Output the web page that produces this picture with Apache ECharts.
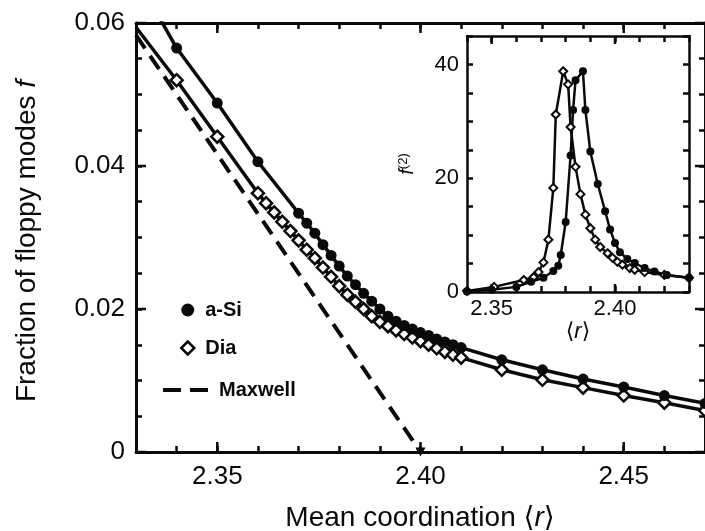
<!DOCTYPE html>
<html>
<head>
<meta charset="utf-8">
<script src="https://cdn.jsdelivr.net/npm/echarts@6/dist/echarts.min.js"></script>
<style>
  html, body { margin: 0; padding: 0; background: #fff; }
  #chart { width: 705px; height: 531px; }
</style>
</head>
<body>
<div id="chart"></div>
<script>
// ---- main panel: fraction of floppy modes f vs <r> ----
const aSi = [
  [2.33, 0.0665], [2.34, 0.0565], [2.35, 0.0488], [2.36, 0.0406], [2.37, 0.0334],
  [2.372, 0.0320], [2.374, 0.0306], [2.376, 0.0290], [2.378, 0.0275], [2.380, 0.0260],
  [2.382, 0.0246], [2.384, 0.0234], [2.386, 0.0222], [2.388, 0.0211], [2.390, 0.0200],
  [2.392, 0.0190], [2.394, 0.0183], [2.396, 0.0177], [2.398, 0.0172], [2.400, 0.0167],
  [2.402, 0.0163], [2.404, 0.0158], [2.406, 0.0154], [2.408, 0.0150], [2.410, 0.0146],
  [2.42, 0.0129], [2.43, 0.0115], [2.44, 0.0102], [2.45, 0.0091], [2.46, 0.0079], [2.47, 0.0068]
];
const dia = [
  [2.33, 0.0594], [2.34, 0.0520], [2.35, 0.0441], [2.360, 0.0362], [2.362, 0.0348],
  [2.364, 0.0335], [2.366, 0.0322], [2.368, 0.0309], [2.370, 0.0296], [2.372, 0.0283],
  [2.374, 0.0271], [2.376, 0.0258], [2.378, 0.0245], [2.380, 0.0232], [2.382, 0.0220],
  [2.384, 0.0210], [2.386, 0.0200], [2.388, 0.0190], [2.390, 0.0182], [2.392, 0.0176],
  [2.394, 0.0170], [2.396, 0.0165], [2.398, 0.0160], [2.400, 0.0155], [2.402, 0.0150],
  [2.404, 0.0145], [2.406, 0.0140], [2.408, 0.0136], [2.410, 0.0132],
  [2.42, 0.0115], [2.43, 0.0101], [2.44, 0.0090], [2.45, 0.0079], [2.46, 0.0069], [2.47, 0.0058]
];
const maxwell = [[2.33, 0.0583], [2.40, 0]];

// ---- inset: f(2) ----
const aSiInset = [
  [2.340, 0.1], [2.350, 0.4], [2.360, 0.9], [2.366, 1.8], [2.371, 2.5], [2.375, 3.7],
  [2.377, 4.6], [2.378, 6.5], [2.380, 12.3], [2.382, 24.0], [2.383, 32.0], [2.384, 37.2],
  [2.387, 38.8], [2.388, 32.0], [2.390, 24.7], [2.393, 19.0], [2.396, 14.2], [2.398, 11.0],
  [2.400, 8.6], [2.402, 7.0], [2.405, 5.8], [2.408, 5.1], [2.412, 4.2], [2.416, 3.6],
  [2.421, 3.0], [2.430, 2.5]
];
const diaInset = [
  [2.340, 0.2], [2.351, 0.9], [2.363, 2.1], [2.367, 2.6], [2.369, 3.5], [2.371, 5.2],
  [2.373, 9.2], [2.375, 18.3], [2.376, 31.2], [2.379, 38.8], [2.381, 36.5], [2.382, 29.0],
  [2.384, 22.0], [2.386, 17.2], [2.388, 13.6], [2.390, 11.2], [2.392, 9.2], [2.394, 7.9],
  [2.397, 6.8], [2.399, 6.0], [2.401, 5.3], [2.403, 4.8], [2.406, 4.2], [2.408, 3.9],
  [2.412, 3.5], [2.420, 3.0], [2.430, 2.5]
];

// tick labels and tick steps
const xLabels = [2.35, 2.40, 2.45];
const yLabels = [0, 0.02, 0.04, 0.06];
const insetXLabels = [2.35, 2.40];
const insetYLabels = [0, 20, 40];
const xStep = 0.01, yStep = 0.005, insetXStep = 0.01, insetYStep = 5;

const MAIN_X = [2.33, 2.47], MAIN_Y = [0, 0.06];
const INSET_X = [2.34, 2.43], INSET_Y = [0, 45];

const FONT = "'Liberation Sans', Arial, 'DejaVu Sans', sans-serif";
const BLACK = '#0a0a0a';

// frame axis: line + inward ticks every `step`, labels only at given values
function frameAxis(o) {
  return {
    type: 'value', gridIndex: o.grid, position: o.pos, min: o.range[0], max: o.range[1],
    interval: o.step,
    axisLine: { show: true, onZero: false, lineStyle: { color: BLACK, width: o.lw || 3 } },
    axisTick: { show: true, inside: true, length: 6, lineStyle: { color: BLACK, width: 2.5 } },
    axisLabel: o.labels ? {
      show: true, customValues: o.labels, formatter: o.fmt, color: BLACK,
      fontSize: o.fs || 26, fontFamily: FONT, margin: o.margin || 10
    } : { show: false },
    splitLine: { show: false },
    name: o.name || '', nameLocation: 'middle', nameGap: o.nameGap || 0,
    nameRotate: o.nameRotate || 0, nameTextStyle: o.nameStyle || {}
  };
}

const chart = echarts.init(document.getElementById('chart'), null, { renderer: 'canvas' });

const option = {
  backgroundColor: '#fff',
  animation: false,
  grid: [
    { left: 136, top: 23, right: -3, bottom: 79 },
    { left: 467, top: 36, right: 16, bottom: 239 }
  ],
  xAxis: [
    frameAxis({ grid: 0, pos: 'bottom', range: MAIN_X, step: xStep, labels: xLabels, fmt: v => v.toFixed(2), margin: 12 }),
    frameAxis({ grid: 1, pos: 'bottom', range: INSET_X, step: insetXStep, lw: 2.5, labels: insetXLabels,
      fmt: v => v.toFixed(2), fs: 22, margin: 6,
      name: '⟨{i|r}⟩', nameGap: 24,
      nameStyle: { fontSize: 22, fontFamily: FONT, color: BLACK, rich: { i: { fontSize: 22, fontStyle: 'italic', fontFamily: FONT, color: BLACK } } } }),
    frameAxis({ grid: 0, pos: 'top', range: MAIN_X, step: xStep }),
    frameAxis({ grid: 1, pos: 'top', range: INSET_X, step: insetXStep, lw: 2.5 })
  ],
  yAxis: [
    frameAxis({ grid: 0, pos: 'left', range: MAIN_Y, step: yStep, labels: yLabels,
      fmt: v => (v === 0 ? '0' : v.toFixed(2)), margin: 11 }),
    frameAxis({ grid: 1, pos: 'left', range: INSET_Y, step: insetYStep, lw: 2.5, labels: insetYLabels,
      fmt: v => String(v), fs: 22, margin: 8,
      name: '{i|f}{s|(2)}', nameGap: 50, nameRotate: 90,
      nameStyle: { fontFamily: FONT, color: BLACK, rich: {
        i: { fontSize: 20, fontStyle: 'italic', fontFamily: FONT, color: BLACK },
        s: { fontSize: 13, verticalAlign: 'top', fontFamily: FONT, color: BLACK } } } }),
    frameAxis({ grid: 0, pos: 'right', range: MAIN_Y, step: yStep }),
    frameAxis({ grid: 1, pos: 'right', range: INSET_Y, step: insetYStep, lw: 2.5 })
  ],
  graphic: [
    {
      type: 'text', x: 420, y: 518,
      style: {
        text: 'Mean coordination ⟨{i|r}⟩', align: 'center', verticalAlign: 'middle',
        fontSize: 28, fontFamily: FONT, fill: BLACK,
        rich: { i: { fontSize: 28, fontStyle: 'italic', fontFamily: FONT, fill: BLACK } }
      }
    },
    {
      type: 'text', x: 27, y: 241, rotation: Math.PI / 2,
      style: {
        text: 'Fraction of floppy modes {i|f}', align: 'center', verticalAlign: 'middle',
        fontSize: 28, fontFamily: FONT, fill: BLACK,
        rich: { i: { fontSize: 28, fontStyle: 'italic', fontFamily: FONT, fill: BLACK } }
      }
    }
  ],
  legend: [
    {
      left: 175, top: 295, orient: 'vertical', itemWidth: 13, itemHeight: 13, itemGap: 18,
      selectedMode: false,
      textStyle: { fontSize: 20, fontWeight: 'bold', fontFamily: FONT, color: BLACK, padding: [0, 0, 0, 6] },
      data: [
        { name: 'a-Si', icon: 'circle' },
        { name: 'Dia', icon: 'diamond', itemStyle: { color: '#fff', borderColor: BLACK, borderWidth: 2.5 } }
      ]
    },
    {
      left: 158, top: 375, itemWidth: 45, itemHeight: 4, selectedMode: false,
      textStyle: { fontSize: 20, fontWeight: 'bold', fontFamily: FONT, color: BLACK, padding: [0, 0, 0, 6] },
      data: [{ name: 'Maxwell', icon: 'path://M0,0h18v4h-18z M27,0h18v4h-18z', itemStyle: { color: BLACK, borderWidth: 0 } }]
    }
  ],
  series: [
    {
      name: 'Maxwell', type: 'line', xAxisIndex: 0, yAxisIndex: 0,
      symbol: 'none',
      data: [
        { value: maxwell[0] },
        { value: maxwell[1], symbol: 'triangle', symbolSize: [10, 9], symbolRotate: 180 }
      ],
      lineStyle: { color: BLACK, width: 4, type: [16, 9] },
      itemStyle: { color: BLACK }
    },
    {
      name: 'Dia', type: 'line', xAxisIndex: 0, yAxisIndex: 0,
      data: dia.map((p, i) => (i === 0 ? { value: p, symbol: 'none' } : p)),
      symbol: 'diamond', symbolSize: 12, showAllSymbol: true,
      lineStyle: { color: BLACK, width: 3.5 },
      itemStyle: { color: '#fff', borderColor: BLACK, borderWidth: 2.5 }
    },
    {
      name: 'a-Si', type: 'line', xAxisIndex: 0, yAxisIndex: 0, data: aSi,
      symbol: 'circle', symbolSize: 11, showAllSymbol: true,
      lineStyle: { color: BLACK, width: 3.5 },
      itemStyle: { color: BLACK }
    },
    {
      name: 'Dia inset', type: 'line', xAxisIndex: 1, yAxisIndex: 1, data: diaInset,
      symbol: 'diamond', symbolSize: 8, showAllSymbol: true,
      lineStyle: { color: BLACK, width: 2.5 },
      itemStyle: { color: '#fff', borderColor: BLACK, borderWidth: 2 }
    },
    {
      name: 'a-Si inset', type: 'line', xAxisIndex: 1, yAxisIndex: 1, data: aSiInset,
      symbol: 'circle', symbolSize: 8, showAllSymbol: true,
      lineStyle: { color: BLACK, width: 2.5 },
      itemStyle: { color: BLACK }
    }
  ]
};

chart.setOption(option);

// longer inward ticks at the labelled values, placed through the axes' scales
function majorTicks(idx, xs, ys, xr, yr, len) {
  const finder = { xAxisIndex: idx, yAxisIndex: idx };
  const style = { stroke: BLACK, lineWidth: 2.5 };
  const seg = (x1, y1, x2, y2) => ({ type: 'line', silent: true, z: 50, shape: { x1, y1, x2, y2 }, style });
  const out = [];
  xs.forEach(v => {
    const a = chart.convertToPixel(finder, [v, yr[0]]);
    const b = chart.convertToPixel(finder, [v, yr[1]]);
    if (a && b) out.push(seg(a[0], a[1], a[0], a[1] - len), seg(b[0], b[1], b[0], b[1] + len));
  });
  ys.forEach(v => {
    const a = chart.convertToPixel(finder, [xr[0], v]);
    const b = chart.convertToPixel(finder, [xr[1], v]);
    if (a && b) out.push(seg(a[0], a[1], a[0] + len, a[1]), seg(b[0], b[1], b[0] - len, b[1]));
  });
  return out;
}

try {
  const ticks = [].concat(
    majorTicks(0, xLabels, yLabels, MAIN_X, MAIN_Y, 10),
    majorTicks(1, insetXLabels, [], INSET_X, INSET_Y, 8)
  );
  chart.setOption({ graphic: option.graphic.concat(ticks) });
} catch (e) {
  // minor ticks from the axes stay in place
}
</script>
</body>
</html>
